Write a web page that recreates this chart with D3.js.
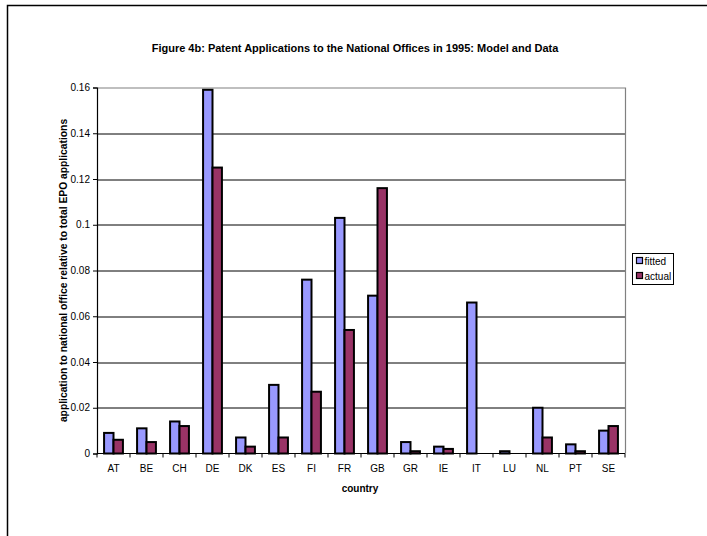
<!DOCTYPE html>
<html>
<head>
<meta charset="utf-8">
<script src="https://d3js.org/d3.v7.min.js"></script>
<style>
  body { margin: 0; background: #fff; }
  text { font-family: "Liberation Sans", Arial, sans-serif; }
</style>
</head>
<body>
<script>
  // chart data
  var countries = ["AT", "BE", "CH", "DE", "DK", "ES", "FI", "FR", "GB", "GR", "IE", "IT", "LU", "NL", "PT", "SE"];
  var fitted = [0.009, 0.011, 0.014, 0.159, 0.007, 0.030, 0.076, 0.103, 0.069, 0.005, 0.003, 0.066, 0.001, 0.020, 0.004, 0.010];
  var actual = [0.006, 0.005, 0.012, 0.125, 0.003, 0.007, 0.027, 0.054, 0.116, 0.001, 0.002, 0, 0, 0.007, 0.001, 0.012];
  var seriesNames = ["fitted", "actual"];
  var yTicks = [0, 0.02, 0.04, 0.06, 0.08, 0.1, 0.12, 0.14, 0.16];

  var W = 707, H = 536;
  var margin = { top: 87.5, right: 82, bottom: 83, left: 97 },
    width = 625 - margin.left,
    height = 453.5 - margin.top;

  var svg = d3.select("body").append("svg")
    .attr("width", W)
    .attr("height", H);

  // outer frame (top + left only visible)
  svg.append("path")
    .attr("d", "M7.5," + H + "V5.5H" + W)
    .attr("fill", "none")
    .attr("stroke", "#000")
    .attr("stroke-width", 1.5);

  var x = d3.scaleBand().domain(countries).range([0, width]);
  var y = d3.scaleLinear().domain([0, 0.16]).range([height, 0]);
  var color = d3.scaleOrdinal().domain(seriesNames).range(["#9999FF", "#993366"]);

  var g = svg.append("g")
    .attr("transform", "translate(" + margin.left + "," + margin.top + ")");

  // gridlines
  g.selectAll(".grid").data(yTicks.slice(1, -1)).enter().append("line")
    .attr("x1", 0).attr("x2", width)
    .attr("y1", function (d) { return Math.round(y(d)) + 0.5; })
    .attr("y2", function (d) { return Math.round(y(d)) + 0.5; })
    .attr("stroke", "#000").attr("stroke-width", 1);

  // plot area top/right border
  g.append("path")
    .attr("d", "M0,0.5H" + (width + 0.5) + "V" + height)
    .attr("fill", "none").attr("stroke", "#808080").attr("stroke-width", 1.2);

  // bars: Excel style gap width 150%
  var bw = x.bandwidth() / 3.5;
  var bars = [];
  countries.forEach(function (c, i) {
    bars.push({ c: c, s: "fitted", k: 0, v: fitted[i] });
    bars.push({ c: c, s: "actual", k: 1, v: actual[i] });
  });
  g.selectAll(".bar").data(bars.filter(function (d) { return d.v > 0; })).enter().append("rect")
    .attr("x", function (d) { return x(d.c) + 0.75 * bw + d.k * bw; })
    .attr("y", function (d) { return y(d.v); })
    .attr("width", bw)
    .attr("height", function (d) { return height - y(d.v); })
    .attr("fill", function (d) { return color(d.s); })
    .attr("stroke", "#000")
    .attr("stroke-width", 2);

  // y axis
  var yAxis = g.append("g")
    .call(d3.axisLeft(y).tickValues(yTicks).tickSize(4).tickPadding(3)
      .tickFormat(function (d) { return d === 0 ? "0" : d3.format("")(+d.toFixed(2)); }));
  yAxis.select(".domain").attr("stroke", "#000").attr("stroke-width", 1.2);
  yAxis.selectAll("text").style("font-size", "10px").attr("fill", "#000");

  // x axis with ticks at category boundaries
  var xAxis = g.append("g").attr("transform", "translate(0," + height + ")");
  xAxis.append("line").attr("x1", 0).attr("x2", width).attr("stroke", "#000").attr("stroke-width", 1.2);
  xAxis.selectAll(".tk").data(d3.range(countries.length + 1)).enter().append("line")
    .attr("x1", function (i) { return i * x.step(); })
    .attr("x2", function (i) { return i * x.step(); })
    .attr("y1", 0).attr("y2", 4)
    .attr("stroke", "#000");
  xAxis.selectAll(".lbl").data(countries).enter().append("text")
    .attr("x", function (d) { return x(d) + x.bandwidth() / 2; })
    .attr("y", 18)
    .attr("text-anchor", "middle")
    .style("font-size", "10px")
    .text(function (d) { return d; });

  // titles
  svg.append("text")
    .attr("x", 355).attr("y", 52)
    .attr("text-anchor", "middle")
    .style("font-size", "11px")
    .style("font-weight", "bold")
    .text("Figure 4b: Patent Applications to the National Offices in 1995: Model and Data");

  svg.append("text")
    .attr("x", 360).attr("y", 492)
    .attr("text-anchor", "middle")
    .style("font-size", "10px")
    .style("font-weight", "bold")
    .text("country");

  svg.append("text")
    .attr("transform", "translate(67," + (margin.top + height / 2) + ") rotate(-90)")
    .attr("text-anchor", "middle")
    .style("font-size", "10.3px")
    .style("font-weight", "bold")
    .text("application to national office relative to total EPO applications");

  // legend
  var lg = svg.append("g").attr("transform", "translate(632.5,253.5)");
  lg.append("rect").attr("width", 41).attr("height", 31)
    .attr("fill", "#fff").attr("stroke", "#000").attr("stroke-width", 1);
  lg.selectAll(".li").data(seriesNames).enter().append("rect")
    .attr("x", 4).attr("y", function (d, i) { return 4 + i * 15; })
    .attr("width", 6).attr("height", 6)
    .attr("fill", function (d) { return color(d); })
    .attr("stroke", "#000").attr("stroke-width", 1.2);
  lg.selectAll(".lt").data(seriesNames).enter().append("text")
    .attr("x", 12).attr("y", function (d, i) { return 11 + i * 15; })
    .style("font-size", "10px")
    .text(function (d) { return d; });
</script>
</body>
</html>
